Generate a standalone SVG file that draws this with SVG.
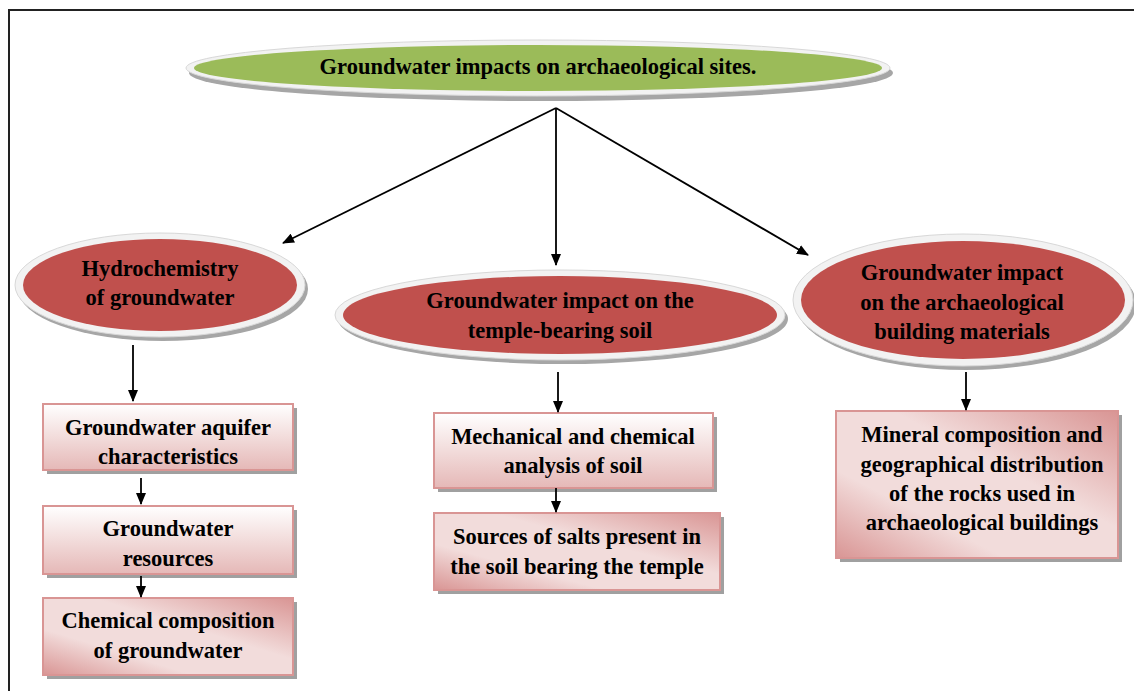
<svg xmlns="http://www.w3.org/2000/svg" width="1134" height="691" viewBox="0 0 1134 691">
<style>
text{font-family:"Liberation Serif","Times New Roman",serif;font-weight:bold;font-size:22.5px;fill:#000;text-anchor:middle}
.ring{fill:#f2f2f2;stroke:#d8d8d8;stroke-width:1}
.shadow{fill:#a6a6a6}
.red{fill:#c0504d}
.green{fill:#9bbb59}
.box{fill:url(#pg);stroke:#d99594;stroke-width:2}
.bshadow{fill:#a0a0a0}
.conn line{stroke:#000;stroke-width:1.8;marker-end:url(#ah)}
</style>
<defs>
<linearGradient id="pg" x1="0" y1="0" x2="0" y2="1">
<stop offset="0" stop-color="#ffffff"/>
<stop offset="0.5" stop-color="#f2dcdb"/>
<stop offset="1" stop-color="#e5b8b7"/>
</linearGradient>
<linearGradient id="pg2" x1="0" y1="1" x2="1" y2="0">
<stop offset="0" stop-color="#d99594"/>
<stop offset="0.3" stop-color="#f2dcdb"/>
<stop offset="0.6" stop-color="#f2dcdb"/>
<stop offset="1" stop-color="#d99594"/>
</linearGradient>
<marker id="ah" viewBox="0 0 12 10" refX="11" refY="5" markerWidth="12" markerHeight="10" orient="auto" markerUnits="userSpaceOnUse">
<path d="M0,0 L12,5 L0,10 z" fill="#000"/>
</marker>
</defs>
<rect x="0" y="0" width="1134" height="691" fill="#fff"/>
<path d="M9,691 L9,10 L1134,10" fill="none" stroke="#222" stroke-width="2"/>

<g id="n-top">
<ellipse class="shadow" cx="541" cy="73" rx="352" ry="28"/>
<ellipse class="ring" cx="538" cy="68" rx="352" ry="28"/>
<ellipse class="green" cx="538" cy="68" rx="344" ry="23"/>
<text x="538" y="74">Groundwater impacts on archaeological sites.</text>
</g>

<g id="n-hydro">
<ellipse class="shadow" cx="163" cy="289" rx="145" ry="52"/>
<ellipse class="ring" cx="160" cy="285" rx="145" ry="52"/>
<ellipse class="red" cx="160" cy="285" rx="137" ry="46"/>
<text x="160" y="276">Hydrochemistry</text>
<text x="160" y="305">of groundwater</text>
</g>

<g id="n-soil">
<ellipse class="shadow" cx="563" cy="319" rx="225" ry="45"/>
<ellipse class="ring" cx="560" cy="315" rx="225" ry="45"/>
<ellipse class="red" cx="560" cy="315" rx="217" ry="39"/>
<text x="560" y="308">Groundwater impact on the</text>
<text x="560" y="338">temple-bearing soil</text>
</g>

<g id="n-build">
<ellipse class="shadow" cx="966" cy="304" rx="170" ry="66"/>
<ellipse class="ring" cx="963" cy="300" rx="170" ry="66"/>
<ellipse class="red" cx="963" cy="300" rx="162" ry="59"/>
<text x="962" y="280">Groundwater impact</text>
<text x="962" y="310">on the archaeological</text>
<text x="962" y="339">building materials</text>
</g>

<g id="b-aquifer">
<rect class="bshadow" x="47" y="408" width="250" height="66"/>
<rect class="box" x="43" y="404" width="250" height="66"/>
<text x="168" y="435">Groundwater aquifer</text>
<text x="168" y="464">characteristics</text>
</g>

<g id="b-resources">
<rect class="bshadow" x="47" y="510" width="250" height="68"/>
<rect class="box" x="43" y="506" width="250" height="68"/>
<text x="168" y="536">Groundwater</text>
<text x="168" y="566">resources</text>
</g>

<g id="b-chem">
<rect class="bshadow" x="47" y="602" width="250" height="77"/>
<rect class="box" x="43" y="598" width="250" height="77" style="fill:url(#pg2)"/>
<text x="168" y="628">Chemical composition</text>
<text x="168" y="658">of groundwater</text>
</g>

<g id="b-mech">
<rect class="bshadow" x="438" y="417" width="279" height="75"/>
<rect class="box" x="434" y="413" width="279" height="75"/>
<text x="573" y="444">Mechanical and chemical</text>
<text x="573" y="473">analysis of soil</text>
</g>

<g id="b-salts">
<rect class="bshadow" x="438" y="517" width="286" height="77"/>
<rect class="box" x="434" y="513" width="286" height="77" style="fill:url(#pg2)"/>
<text x="577" y="544">Sources of salts present in</text>
<text x="577" y="574">the soil bearing the temple</text>
</g>

<g id="b-mineral">
<rect class="bshadow" x="840" y="415" width="282" height="147"/>
<rect class="box" x="836" y="411" width="282" height="147" style="fill:url(#pg2)"/>
<text x="982" y="442">Mineral composition and</text>
<text x="982" y="472">geographical distribution</text>
<text x="982" y="501">of the rocks used in</text>
<text x="982" y="530">archaeological buildings</text>
</g>

<g id="connectors" class="conn">
<line x1="556" y1="108" x2="283" y2="243"/>
<line x1="556" y1="108" x2="556" y2="265"/>
<line x1="556" y1="108" x2="808" y2="255"/>
<line x1="133" y1="345" x2="133" y2="401"/>
<line x1="141" y1="478" x2="141" y2="504"/>
<line x1="141" y1="576" x2="141" y2="597"/>
<line x1="558" y1="372" x2="558" y2="412"/>
<line x1="556" y1="488" x2="556" y2="512"/>
<line x1="966" y1="372" x2="966" y2="410"/>
</g>
</svg>
